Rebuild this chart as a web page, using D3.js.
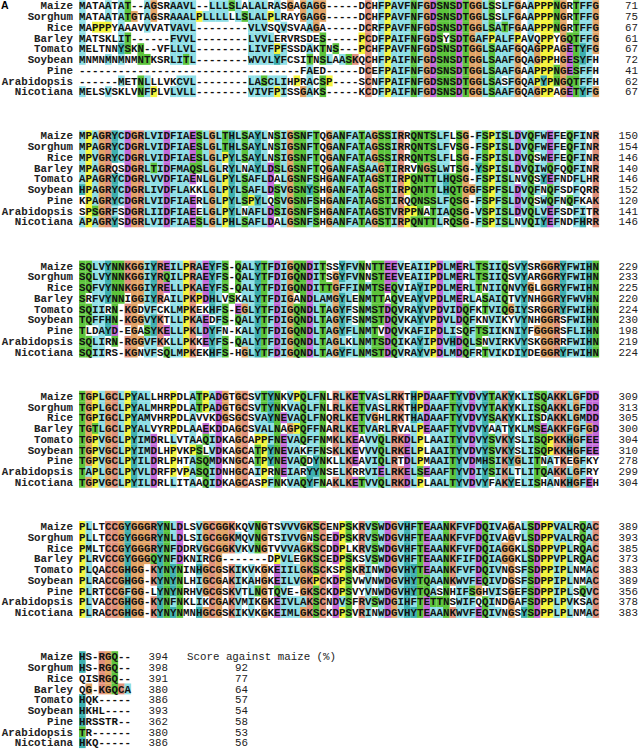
<!DOCTYPE html>
<html><head><meta charset="utf-8">
<script src="https://cdn.jsdelivr.net/npm/d3@7"></script>
<style>body{margin:0;background:#fff}</style>
</head><body><svg id="c" width="641" height="750"></svg>
<script>
const species = ["Maize","Sorghum","Rice","Barley","Tomato","Soybean","Pine","Arabidopsis","Nicotiana"];

const block1 = [
"MATAATAT--AGSRAAVL--LLLSLALALRASGAGAGG-----DCHFPAVFNFGDSNSDTGGLSSLFGAAPPPNGRTFFG",
"MATAATATGTAGSRAAALPLLLLLLSLALPLRAYGAGG-----DCHFPAVFNFGDSNSDTGGLSSLFGAAPPPNGRTFFG",
"MAPPPYAAAVVVATVAVL--------VLVSQVSVAAGA-----DCRFPAVFNFGDSNSDTGGLSATFGAAPPPNGRTFFG",
"MATSKLIT------FVVL--------LVVLERVRSDES-----PCDFPAIFNFGDSYSDTGAFPALFPAVQPPYGQTFFG",
"MELTNNYSKN--VFLLVL--------LIVFPFSSDAKTNS---PCHFPAVFNFGDSNSDTGGLSAAFGQAGPPAGETYFG",
"MNMNMNMNMNTKSRLITL--------WVVLYFCSITNSLAASKQCHFPAIFNFGDSNSDTGGLSAAFGQAGPPHGESYFH",
"----------------------------------FAED-----DCEFPAIFNFGDSNSDTGGLSAAFGAAPPPNGESFFH",
"------METNLLLVKCVL--------LASCLIHPRACSP----SCNFPAIFNFGDSNSDTGGLSASFGQAPYPNGQTFFH",
"MELSVSKLVNFPLVLVLL--------VIVFPISSGAKS-----KCDFPAIFNFGDSNSDTGGLSAAFGQAGPPAGETYFG"];
const block2 = [
"MPAGRYCDGRLVIDFIAESLGLTHLSAYLNSIGSNFTQGANFATAGSSIRRQNTSLFLSG-FSPISLDVQFWEFEQFINR",
"MPAGRYCDGRLVIDFIAESLGLTHLSAYLNSIGSNFTQGANFATAGSSIRRQNTSLFVSG-FSPISLDVQFWEFEQFINR",
"MPVGRYCDGRLVIDFIAESLGLPYLSAYLNSIGSNFTQGANFATAGSSIRRQNTSLFLSG-FSPISLDVQSWEFEQFINR",
"MPAGRQSDGRLTIDFMAQSLGLRYLNAYLDSLGSNFTQGANFASAAGTIRRVNGSLWTSG-YSPISLDVQIWQFQQFINR",
"APAGRYCDGRLVVDFIAENLGLPYLSAFLDALGSNFSHGANFATAGSTIRPQNTTLHQSG-FSPISLNVQSYEFNDFLHR",
"HPAGRYCDGRLIVDFLAKKLGLPYLSAFLDSVGSNYSHGANFATAGSTIRPQNTTLHQTGGFSPFSLDVQFNQFSDFQRR",
"KPAGRYCDGRLVIDFIAERLGLPYLSPYLQSVGSNFSHGANFATAGSTIRQQNSSLFQSG-FSPFSLDVQSWQFNQFKAK",
"SPSGRFSDGRLIIDFIAEELGLPYLNAFLDSIGSNFSHGANFATAGSTVRPPNATIAQSG-VSPISLDVQLVEFSDFITR",
"APAGRYSDGRLVIDFIAESLGLPHLSAFLDALGSNFSHGANFATAGSTIRPQNTTLRQSG-FSPISLNVQIYEFNDFHRR"];
const block3 = [
"SQLVYNNKGGIYREILPRAEYFS-QALYTFDIGQNDITSSYFVNNTTEEVEAIIPDLMERLTSIIQSVYSRGGRYFWIHN",
"SQLVYNNKGGIYRQILPRAEYFS-QALYTFDIGQNDITSGYFVNNSTEEVEAIIPDLMERLTSIIQSVYARGGRYFWIHN",
"SQFVYNNKGGIYRELLPKAEYFS-QALYTFDIGQNDITTGFFINMTSEQVIAYIPDLMERLTNIIQNVYGLGGRYFWIHN",
"SRFVYNNIGGIYRAILPKPDHLVSKALYTFDIGANDLAMGYLENMTTAQVEAYVPDLMERLASAIQTVYNHGGRYFWVHN",
"SQIIRN-KGDVFCKLMPKEKHFS-EGLYTFDIGQNDLTAGYFSNMSTDQVRAYVPDVIDQFKTVIQGIYSRGGRYFWIHN",
"TQFFHN-KGGVYKTLLPKAEDFS-QALYTFDIGQNDLTAGYFSNMSTDQVKAYVPDVLDQFKNVIKYVYNHGGRSFWIHN",
"TLDAYD-EGASYKELLPKLDYFN-KALYTFDIGQNDLTAGYFLNMTVDQVKAFIPDLISQFTSIIKNIYFGGGRSFLIHN",
"SQLIRN-RGGVFKKLLPKKEYFS-QALYTFDIGQNDLTAGLKLNMTSDQIKAYIPDVHDQLSNVIRKVYSKGGRRFWIHN",
"SQIIRS-KGNVFSQLMPKEKHFS-HGLYTFDIGQNDLTAGYFLNMSTDQVRAYVPDLMDQFRTVIKDIYDEGGRYFWIHN"];
const block4 = [
"TGPLGCLPYALLHRPDLATPADGTGCSVTYNKVPQLFNLRLKETVASLRKTHPDAAFTYVDVYTAKYKLISQAKKLGFDD",
"TGPLGCLPYALMHRPDLATPADGTGCSVTYNKVAQLFNLRLKETVASLRKTHPDAAFTYVDVYTAKYKLISQAKKLGFDD",
"TGPIGCLPYAMVHRPDLAVVKDGSGCSVAYNEVAQLFNQRLKETVGHLRKTHADAAFTYVDVYSAKYKLISDAKKLGMDD",
"TGTLGCLPYALVYRPDLAAEKDDAGCSVALNAGPQFFNARLKETVARLRVALPEAAFTYVDVYAATYKLMSEAKKFGFGD",
"TGPVGCLPYIMDRLLVTAAQIDKAGCAPPFNEVAQFFNMKLKEAVVQLRKDLPLAAITYVDVYSVKYSLISQPKKHGFEE",
"TGPVGCLPYIMDLHPVKPSLVDKAGCATPYNEVAKFFNSKLKEVVVQLRKELPLAAITYVDVYSVKYSLISQPKKHGFEE",
"TGPVGCLPYILDRLPHTASQMDKNGCATPYNEVAQDYNKLLKEAVIQLRTDLPMAAITYVDMHSIKYGLITNATKEGFKY",
"TAPLGCLPYVLDRFPVPASQIDNHGCAIPRNEIARYYNSELKRRVIELRKELSEAAFTYVDIYSIKLTLITQAKKLGFRY",
"TGPVGCLPYILDRLLITAAQIDKAGCASPFNKVAQYFNAKLKETVVQLRKDLPLAALTYVDVYFAKYELISHANKHGFEH"];
const block5 = [
"PLLTCCGYGGGRYNLDLSVGCGGKKQVNGTSVVVGKSCENPSKRVSWDGVHFTEAANKFVFDQIVAGALSDPPVALRQAC",
"PLLTCCGYGGGRYNLDLSIGCGGKMQVNGTSIVVGNSCEDPSKRVSWDGVHFTEAANKFVFDQIVAGVLSDPPVALRQAC",
"PMLTCCGYGGGRYNFDDRVGCGGKVKVNGTVVVAGKSCDDPLKRVSWDGVHFTEAANKFVFDQIAGGKLSDPPVPLRQAC",
"PLRVCCGYGGGQYNFDKNIRCG-------DPVLEGKSCEDPSKSVSWDGVHFTEAANKFIFDQIAGGKLSDPPVPLRQAC",
"PLQACCGHGG-KYNYNINHGCGSKIKVKGKEIILGKSCKSPSKRINWDGVHYTEAANKFVFDQIVNGSFSDPPIPLNMAC",
"PLRACCGHGG-KYNYNLHIGCGAKIKAHGKEILVGKPCKDPSVWVNWDGVHYTQAANKWVFEQIVDGSFSDPPIPLNMAC",
"PLRTCCGFGG-LYNYNRHVGCGSKVTLNGTQVE-GKSCKDPSVYVNWDGVHYTQASNHIFSGHVISGEFSDPPIPLSQVC",
"PLVACCGHGG-KYNFNKLIKCGAKVMIKGKEIVLAKSCNDVSFRVSWDGIHFTETTNSWIFQQINDGAFSDPPLPVKSAC",
"PLRACCGHGG-KYNYNMNHGCGSKIKVKGKEIMLGKSCKDPSVRINWDGVHYTEAANKWVFEQIVNGSYSDPPLPLNMAC"];
const block6 = ["HS-RGQ--","HS-RGQ--","QISRGQ--","QG-KGQCA","HQK-----","HKHL----","HRSSTR--","TR------","HKQ-----"];

const ends1 = [71,75,67,61,67,72,41,62,67];
const ends2 = [150,154,146,140,146,152,120,141,146];
const ends3 = [229,233,225,220,224,230,198,219,224];
const ends4 = [309,313,305,300,304,310,278,299,304];
const ends5 = [389,393,385,373,383,389,356,378,383];
const ends6 = [394,398,391,380,386,393,362,380,386];
const scoreTitle = "Score against maize (%)";
const scores = [null,92,77,64,57,54,58,53,56];
const panelLabel = "A";

const blocks = [block1,block2,block3,block4,block5,block6];
const ends = [ends1,ends2,ends3,ends4,ends5,ends6];

const palette = {BLUE:"#8fdfe6", CYAN:"#3eb0b0", GREEN:"#5cc43c", MAGENTA:"#c468d8",
                 RED:"#e0917c", PINK:"#e0917c", ORANGE:"#e2a466", YELLOW:"#f4f43c"};

function consensus(col){
  const res = col.filter(c => c && c !== '-');
  const n = res.length, cnt = {};
  res.forEach(c => cnt[c] = (cnt[c]||0)+1);
  const frac = s => n ? s.split('').reduce((a,c)=>a+(cnt[c]||0),0)/n : 0;
  const S = new Set();
  const h = frac('WLVIMAFCYHP');
  if (h >= .6) S.add('%');
  if (h >= .8) S.add('#');
  if (frac('ED') >= .5) S.add('-');
  if (frac('KR') >= .6) S.add('+');
  if (frac('G') >= .5) S.add('g');
  if (frac('N') >= .5) S.add('n');
  if (frac('QE') >= .5) S.add('q');
  if (frac('P') >= .5) S.add('p');
  if (frac('TS') >= .5) S.add('t');
  'ACDEFGHIKLMNPQRSTVWY'.split('').forEach(a => { if (frac(a) >= .85) S.add(a); });
  return S;
}
const hyd = ['%','#','A','C','F','H','I','L','M','V','W','Y','P','p'];
function colourOf(r, S){
  if (!S) return null;
  const any = a => a.some(s => S.has(s));
  switch(r){
    case 'G': return 'ORANGE';
    case 'P': return 'YELLOW';
    case 'T': return any(['t','S','T','%','#']) ? 'GREEN' : null;
    case 'S': return any(['t','S','T','#']) ? 'GREEN' : null;
    case 'N': return any(['n','N','D']) ? 'GREEN' : null;
    case 'Q': return any(['q','Q','E','+','K','R']) ? 'GREEN' : null;
    case 'W': case 'L': case 'V': case 'I': case 'M': case 'F':
      return any(hyd) ? 'BLUE' : null;
    case 'A': return any(hyd.concat(['T','S','G'])) ? 'BLUE' : null;
    case 'C': if (S.has('C')) return 'PINK';
      return any(['%','#','A','F','H','I','L','M','V','W','Y','S','P','p']) ? 'BLUE' : null;
    case 'H': case 'Y': return any(hyd) ? 'CYAN' : null;
    case 'E': return any(['-','D','E','q','Q']) ? 'MAGENTA' : null;
    case 'D': return any(['-','D','E','n','N']) ? 'MAGENTA' : null;
    case 'K': case 'R': return any(['+','K','R','Q']) ? 'RED' : null;
  }
  return null;
}

const svg = d3.select("#c");
const charW = 6.5, rowH = 10.75, seqX0 = 79;
const x = d3.scaleBand().domain(d3.range(80)).range([seqX0, seqX0 + 80*charW]).padding(0);
const y = d3.scaleBand().domain(species).range([0, species.length*rowH]).padding(0);
const blockTop = d3.scaleLinear().domain([0,1]).range([0.2, 130.4]);
const font = "'Liberation Mono', 'DejaVu Sans Mono', monospace";

svg.append("text").attr("x",1).attr("y",9).text(panelLabel)
  .attr("font-family","Liberation Sans, Arial, sans-serif").attr("font-weight","bold").attr("font-size",10.5);

blocks.forEach((blk, b) => {
  const g = svg.append("g").attr("transform", `translate(0,${blockTop(b)})`);
  const ncol = d3.max(blk, s => s.length);
  const cons = d3.range(ncol).map(j => consensus(blk.map(s => s[j])));
  const cells = [];
  blk.forEach((s, i) => s.split('').forEach((c, j) => cells.push({sp: species[i], c, j, col: c==='-'?null:colourOf(c, cons[j])})));
  g.selectAll("rect.cell").data(cells.filter(d => d.col)).join("rect")
    .attr("class","cell")
    .attr("x", d => x(d.j)).attr("y", d => y(d.sp))
    .attr("width", x.bandwidth()+0.15).attr("height", y.bandwidth()+0.15)
    .attr("fill", d => palette[d.col]);
  g.selectAll("text.res").data(cells).join("text")
    .attr("class","res")
    .attr("x", d => x(d.j) + x.bandwidth()/2).attr("y", d => y(d.sp) + y.bandwidth()/2 + 3.7)
    .attr("text-anchor","middle").attr("font-family", font).attr("font-size", 10.8)
    .attr("font-weight","bold").attr("fill","#111").text(d => d.c);
  g.selectAll("text.lab").data(species).join("text")
    .attr("class","lab").attr("x", 73).attr("y", d => y(d) + y.bandwidth()/2 + 3.7)
    .attr("text-anchor","end").attr("font-family", font).attr("font-size", 10.8)
    .attr("font-weight","bold").attr("fill","#222").text(d => d);
  const numX = b < 5 ? 638 : 168;
  g.selectAll("text.num").data(ends[b]).join("text")
    .attr("class","num").attr("x", numX).attr("y", (d,i) => y(species[i]) + y.bandwidth()/2 + 3.7)
    .attr("text-anchor","end").attr("font-family", font).attr("font-size", 10.8)
    .attr("fill","#222").text(d => d);
  if (b === 5) {
    g.append("text").attr("x", 187).attr("y", y(species[0]) + y.bandwidth()/2 + 3.7)
      .attr("font-family", font).attr("font-size", 10.8).attr("fill","#222").text(scoreTitle);
    g.selectAll("text.score").data(scores.map((v,i)=>({v,i})).filter(d=>d.v!==null)).join("text")
      .attr("class","score").attr("x", 248).attr("y", d => y(species[d.i]) + y.bandwidth()/2 + 3.7)
      .attr("text-anchor","end").attr("font-family", font).attr("font-size", 10.8)
      .attr("fill","#222").text(d => d.v);
  }
});
</script></body></html>
